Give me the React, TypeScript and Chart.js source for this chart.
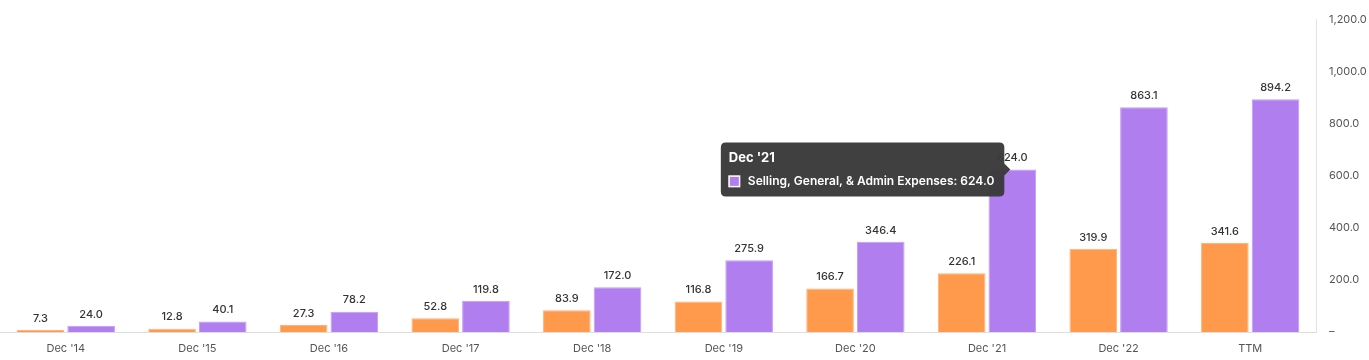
import React, { useEffect, useRef } from "react";
import { Chart, registerables } from "chart.js";

Chart.register(...registerables);

const categories = ["Dec '14", "Dec '15", "Dec '16", "Dec '17", "Dec '18", "Dec '19", "Dec '20", "Dec '21", "Dec '22", "TTM"];
const rdValues = [7.3, 12.8, 27.3, 52.8, 83.9, 116.8, 166.7, 226.1, 319.9, 341.6];
const sgaValues = [24.0, 40.1, 78.2, 119.8, 172.0, 275.9, 346.4, 624.0, 863.1, 894.2];
const yTicks = [0, 200, 400, 600, 800, 1000, 1200];

const FONT = "Inter, 'Noto Sans', sans-serif";

const valueLabels = {
  id: "valueLabels",
  afterDatasetsDraw(chart: any) {
    const ctx = chart.ctx;
    ctx.save();
    ctx.font = `500 11px ${FONT}`;
    ctx.fillStyle = "#333333";
    ctx.textAlign = "center";
    ctx.textBaseline = "bottom";
    chart.data.datasets.forEach((ds: any, di: number) => {
      const meta = chart.getDatasetMeta(di);
      meta.data.forEach((el: any, i: number) => {
        ctx.fillText(Number(ds.data[i]).toFixed(1), el.x, el.y - 6);
      });
    });
    ctx.restore();
  },
};

export default function App() {
  const ref = useRef<HTMLCanvasElement | null>(null);
  useEffect(() => {
    document.body.style.margin = "0";
    const chart = new Chart(ref.current as HTMLCanvasElement, {
      type: "bar",
      data: {
        labels: categories,
        datasets: [
          {
            label: "Research & Development Expenses",
            data: rdValues,
            backgroundColor: "#FF9A4D",
            borderColor: "#FFB27A",
            hoverBackgroundColor: "#FF9A4D",
            hoverBorderColor: "#FFB27A",
            borderWidth: 1,
            categoryPercentage: 0.77,
            barPercentage: 0.94,
          },
          {
            label: "Selling, General, & Admin Expenses",
            data: sgaValues,
            backgroundColor: "#B07EEE",
            borderColor: "#C39CF2",
            hoverBackgroundColor: "#B07EEE",
            hoverBorderColor: "#C39CF2",
            borderWidth: 1,
            categoryPercentage: 0.77,
            barPercentage: 0.94,
          },
        ],
      },
      options: {
        animation: false,
        responsive: false,
        maintainAspectRatio: false,
        layout: { padding: { top: 18, left: 0, right: 0, bottom: 0 } },
        plugins: {
          legend: { display: false },
          tooltip: {
            enabled: true,
            backgroundColor: "rgba(58,58,58,0.97)",
            titleColor: "#ffffff",
            bodyColor: "#ffffff",
            titleFont: { family: FONT, size: 13, weight: "bold" },
            bodyFont: { family: FONT, size: 12, weight: "600" },
            padding: { top: 8, bottom: 8, left: 8, right: 10 },
            cornerRadius: 5,
            caretSize: 6,
            caretPadding: 2,
            boxWidth: 11,
            boxHeight: 11,
            boxPadding: 6,
            titleMarginBottom: 8,
            xAlign: "right",
            yAlign: "center",
            callbacks: {
              label: (c: any) => `${c.dataset.label}: ${Number(c.raw).toFixed(1)}`,
              labelColor: () => ({ borderColor: "#ffffff", backgroundColor: "#B07EEE", borderWidth: 1 }),
            },
          },
        },
        scales: {
          x: {
            grid: { display: false, drawTicks: false },
            border: { display: true, color: "#dddddd" },
            ticks: { color: "#555555", font: { family: FONT, size: 11 }, padding: 10 },
            afterFit: (s: any) => { s.height = 28; },
          },
          y: {
            position: "right",
            min: 0,
            max: 1200,
            afterBuildTicks: (s: any) => { s.ticks = yTicks.map((v) => ({ value: v })); },
            grid: { display: false, drawTicks: false },
            border: { display: true, color: "#e3e3e3" },
            ticks: {
              color: "#555555",
              font: { family: FONT, size: 11 },
              padding: 13,
              callback: (v: any) => (Number(v) === 0 ? "–" : Number(v).toLocaleString("en-US", { minimumFractionDigits: 1, maximumFractionDigits: 1 })),
            },
            afterFit: (s: any) => { s.width = 53; },
          },
        },
      },
      plugins: [valueLabels],
    });
    const active = [{ datasetIndex: 1, index: 7 }];
    chart.setActiveElements(active);
    chart.tooltip?.setActiveElements(active, { x: 0, y: 0 });
    chart.update();
    return () => chart.destroy();
  }, []);
  return (
    <div style={{ position: "absolute", left: 0, top: 0, width: 1369, height: 360 }}>
      <canvas ref={ref} width={1369} height={360} style={{ width: 1369, height: 360 }} />
    </div>
  );
}
